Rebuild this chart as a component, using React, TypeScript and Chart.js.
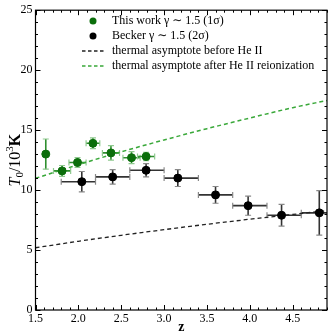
import React, { useEffect, useRef } from "react";
import { Chart, registerables } from "chart.js";

Chart.register(...registerables);

// ---- data ----
const zThis = [1.62, 1.81, 1.99, 2.17, 2.38, 2.62, 2.79];
const tThis = [13.0, 11.6, 12.3, 13.9, 13.1, 12.7, 12.8];
const tThisErr = [1.26, 0.45, 0.4, 0.45, 0.6, 0.5, 0.35];
const zThisErr = [0, 0.1, 0.1, 0.08, 0.1, 0.1, 0.1];

const zBecker = [2.04, 2.4, 2.79, 3.16, 3.6, 3.98, 4.37, 4.81];
const tBecker = [10.7, 11.1, 11.65, 11.0, 9.6, 8.7, 7.9, 8.1];
const tBeckerErr = [0.85, 0.6, 0.55, 0.7, 0.7, 0.8, 0.9, 1.85];
const zBeckerLo = [1.8, 2.2, 2.6, 3.0, 3.4, 3.8, 4.2, 4.6];
const zBeckerHi = [2.2, 2.6, 3.0, 3.4, 3.8, 4.2, 4.6, 5.0];

const zAsym = [1.5, 2.0, 2.5, 3.0, 3.5, 4.0, 4.5, 4.9];
const tBefore = [5.19, 5.73, 6.23, 6.7, 7.15, 7.57, 7.97, 8.28];
const tAfter = [10.98, 12.12, 13.19, 14.18, 15.12, 16.01, 16.87, 17.47];

const xTickValues = [1.5, 2.0, 2.5, 3.0, 3.5, 4.0, 4.5];
const yTickValues = [0, 5, 10, 15, 20, 25];

const legendLabels = [
  "This work \u03b3 \u223c 1.5 (1\u03c3)",
  "Becker \u03b3 \u223c 1.5 (2\u03c3)",
  "thermal asymptote before He II",
  "thermal asymptote after He II reionization",
];

const GREEN_PT = "#0b6e0b";
const GREEN_ERR = "#2f8f2f";
const GREEN_LINE = "#39a839";
const SERIF = "'Liberation Serif', 'DejaVu Serif', serif";

const errorBarPlugin = {
  id: "errbars",
  beforeDatasetsDraw(chart: any) {
    const { ctx, scales } = chart;
    const xs = scales.x;
    const ys = scales.y;
    const area = chart.chartArea;
    ctx.save();
    ctx.beginPath();
    ctx.rect(area.left, area.top, area.right - area.left, area.bottom - area.top);
    ctx.clip();
    const cap = 3;
    const drawSet = (
      zs: number[], ts: number[], lo: number[], hi: number[], te: number[],
      color: string, capColor: string
    ) => {
      for (let i = 0; i < zs.length; i++) {
        const px = xs.getPixelForValue(zs[i]);
        const py = ys.getPixelForValue(ts[i]);
        const x0 = xs.getPixelForValue(lo[i]);
        const x1 = xs.getPixelForValue(hi[i]);
        const y0 = ys.getPixelForValue(ts[i] - te[i]);
        const y1 = ys.getPixelForValue(ts[i] + te[i]);
        ctx.lineWidth = 1.6;
        ctx.strokeStyle = color;
        ctx.beginPath();
        ctx.moveTo(px, y0); ctx.lineTo(px, y1);
        if (Math.abs(x1 - x0) > 0.5) { ctx.moveTo(x0, py); ctx.lineTo(x1, py); }
        ctx.stroke();
        ctx.lineWidth = 1.2;
        ctx.strokeStyle = capColor;
        ctx.beginPath();
        ctx.moveTo(px - cap, y0); ctx.lineTo(px + cap, y0);
        ctx.moveTo(px - cap, y1); ctx.lineTo(px + cap, y1);
        if (Math.abs(x1 - x0) > 0.5) {
          ctx.moveTo(x0, py - cap); ctx.lineTo(x0, py + cap);
          ctx.moveTo(x1, py - cap); ctx.lineTo(x1, py + cap);
        }
        ctx.stroke();
      }
    };
    drawSet(
      zBecker, tBecker, zBeckerLo, zBeckerHi, tBeckerErr, "#333333", "#888888"
    );
    drawSet(
      zThis, tThis,
      zThis.map((z, i) => z - zThisErr[i]),
      zThis.map((z, i) => z + zThisErr[i]),
      tThisErr, GREEN_ERR, "#8fc98f"
    );
    ctx.restore();
  },
  afterDraw(chart: any) {
    const { ctx, scales } = chart;
    const xs = scales.x;
    const ys = scales.y;
    const a = chart.chartArea;
    ctx.save();
    // frame
    ctx.strokeStyle = "#000";
    ctx.lineWidth = 1.2;
    ctx.strokeRect(a.left, a.top, a.right - a.left, a.bottom - a.top);
    // ticks inside, all sides
    ctx.lineWidth = 1;
    ctx.beginPath();
    for (let v = 1.5; v <= 4.9001; v += 0.1) {
      const vv = Math.round(v * 10) / 10;
      const major = Math.abs(vv * 2 - Math.round(vv * 2)) < 1e-6;
      const len = major ? 5 : 2.5;
      const px = Math.round(xs.getPixelForValue(vv)) + 0.5;
      ctx.moveTo(px, a.bottom); ctx.lineTo(px, a.bottom - len);
      ctx.moveTo(px, a.top); ctx.lineTo(px, a.top + len);
    }
    for (let v = 0; v <= 25; v += 1) {
      const major = v % 5 === 0;
      const len = major ? 5 : 2.5;
      const py = Math.round(ys.getPixelForValue(v)) + 0.5;
      ctx.moveTo(a.left, py); ctx.lineTo(a.left + len, py);
      ctx.moveTo(a.right, py); ctx.lineTo(a.right - len, py);
    }
    ctx.stroke();

    // legend
    const lx = 93;
    const rows = [21, 36, 51, 66];
    ctx.font = `12px ${SERIF}`;
    ctx.textBaseline = "middle";
    ctx.textAlign = "left";
    ctx.fillStyle = GREEN_PT;
    ctx.beginPath(); ctx.arc(lx, rows[0], 3.5, 0, Math.PI * 2); ctx.fill();
    ctx.fillStyle = "#000";
    ctx.beginPath(); ctx.arc(lx, rows[1], 3.5, 0, Math.PI * 2); ctx.fill();
    ctx.lineWidth = 1.3;
    ctx.setLineDash([3.5, 2.5]);
    ctx.strokeStyle = "#222";
    ctx.beginPath(); ctx.moveTo(82, rows[2]); ctx.lineTo(105, rows[2]); ctx.stroke();
    ctx.strokeStyle = GREEN_LINE;
    ctx.beginPath(); ctx.moveTo(82, rows[3]); ctx.lineTo(105, rows[3]); ctx.stroke();
    ctx.setLineDash([]);
    ctx.fillStyle = "#000";
    legendLabels.forEach((t, i) => ctx.fillText(t, 112, rows[i]));

    // y title: T_0/10^3 K
    ctx.translate(16, (a.top + a.bottom) / 2);
    ctx.rotate(-Math.PI / 2);
    const parts = [
      { t: "T", f: `italic 16px ${SERIF}`, dy: 0 },
      { t: "0", f: `11px ${SERIF}`, dy: 4 },
      { t: "/10", f: `16px ${SERIF}`, dy: 0 },
      { t: "3", f: `11px ${SERIF}`, dy: -6 },
      { t: "K", f: `bold 16px ${SERIF}`, dy: 0 },
    ];
    let total = 0;
    parts.forEach((p) => { ctx.font = p.f; total += ctx.measureText(p.t).width; });
    let x = -total / 2;
    ctx.textBaseline = "middle";
    parts.forEach((p) => {
      ctx.font = p.f;
      ctx.fillText(p.t, x, p.dy);
      x += ctx.measureText(p.t).width;
    });
    ctx.restore();
  },
};

export default function App() {
  const ref = useRef<HTMLCanvasElement | null>(null);
  useEffect(() => {
    document.body.style.margin = "0";
    const canvas = ref.current!;
    const chart = new Chart(canvas, {
      type: "scatter",
      data: {
        datasets: [
          {
            label: legendLabels[0],
            data: zThis.map((z, i) => ({ x: z, y: tThis[i] })),
            backgroundColor: GREEN_PT,
            borderColor: GREEN_PT,
            pointRadius: 4,
            order: 0,
          },
          {
            label: legendLabels[1],
            data: zBecker.map((z, i) => ({ x: z, y: tBecker[i] })),
            backgroundColor: "#000",
            borderColor: "#000",
            pointRadius: 4,
            order: 1,
          },
          {
            label: legendLabels[2],
            data: zAsym.map((z, i) => ({ x: z, y: tBefore[i] })),
            showLine: true,
            borderColor: "#222",
            borderWidth: 1.3,
            borderDash: [4, 3],
            pointRadius: 0,
            cubicInterpolationMode: "monotone",
            order: 3,
          } as any,
          {
            label: legendLabels[3],
            data: zAsym.map((z, i) => ({ x: z, y: tAfter[i] })),
            showLine: true,
            borderColor: GREEN_LINE,
            borderWidth: 1.5,
            borderDash: [4, 3],
            pointRadius: 0,
            cubicInterpolationMode: "monotone",
            order: 2,
          } as any,
        ],
      },
      options: {
        animation: false,
        responsive: false,
        layout: { padding: { top: 8, right: 5, left: 0, bottom: 0 } },
        plugins: {
          legend: { display: false },
          tooltip: { enabled: false },
        },
        scales: {
          x: {
            type: "linear",
            min: 1.5,
            max: 4.9,
            grid: { display: false, drawTicks: false },
            border: { display: false },
            afterBuildTicks: (s: any) => {
              s.ticks = xTickValues.map((v) => ({ value: v }));
            },
            afterFit: (s: any) => { s.height = 25; },
            ticks: {
              padding: 2,
              color: "#000",
              font: { family: SERIF, size: 12 },
              maxRotation: 0,
              callback: (v: any) => Number(v).toFixed(1),
            },
            title: { display: false },
          },
          y: {
            type: "linear",
            min: 0,
            max: 25,
            grid: { display: false, drawTicks: false },
            border: { display: false },
            afterBuildTicks: (s: any) => {
              s.ticks = yTickValues.map((v) => ({ value: v }));
            },
            afterFit: (s: any) => { s.width = 35.5; },
            ticks: {
              padding: 3,
              color: "#000",
              font: { family: SERIF, size: 12 },
              callback: (v: any) => String(v),
            },
          },
        },
      },
      plugins: [
        errorBarPlugin,
        {
          id: "xtitle",
          afterDraw(c: any) {
            const g = c.ctx;
            g.save();
            g.font = `bold 14px ${SERIF}`;
            g.fillStyle = "#000";
            g.textAlign = "center";
            g.textBaseline = "middle";
            g.fillText("z", (c.chartArea.left + c.chartArea.right) / 2, 327);
            g.restore();
          },
        },
      ],
    } as any);
    return () => chart.destroy();
  }, []);
  return <canvas ref={ref} width={332} height={335} style={{ display: "block" }} />;
}
